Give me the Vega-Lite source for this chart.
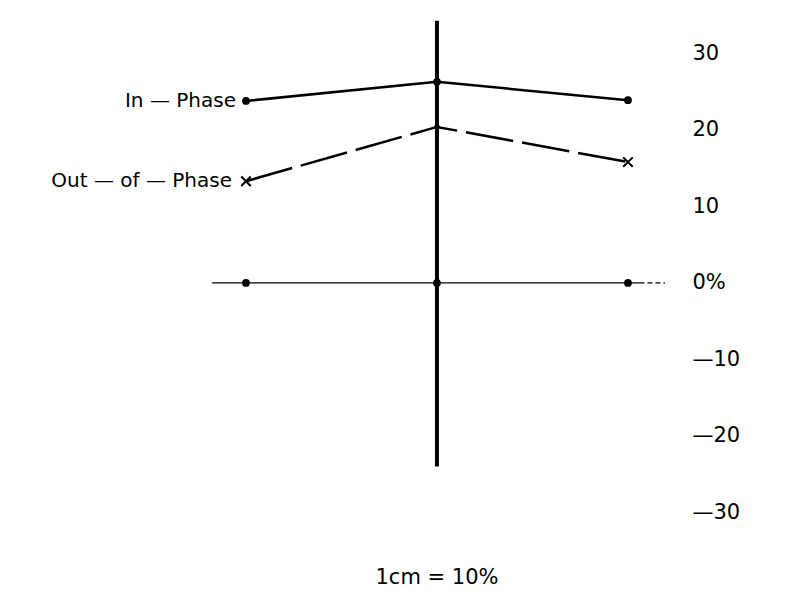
{
  "$schema": "https://vega.github.io/schema/vega-lite/v6.json",
  "width": 682,
  "height": 604,
  "padding": 0,
  "autosize": {"type": "pad"},
  "background": "white",
  "config": {"view": {"stroke": null}, "font": "DejaVu Sans"},
  "datasets": {
    "series": [
      {"series": "In-Phase", "pos": -1, "value": 23.8},
      {"series": "In-Phase", "pos": 0, "value": 26.3},
      {"series": "In-Phase", "pos": 1, "value": 23.9},
      {"series": "Out-of-Phase", "pos": -1, "value": 13.3},
      {"series": "Out-of-Phase", "pos": 0, "value": 20.4},
      {"series": "Out-of-Phase", "pos": 1, "value": 15.8},
      {"series": "Baseline", "pos": -1, "value": 0},
      {"series": "Baseline", "pos": 0, "value": 0},
      {"series": "Baseline", "pos": 1, "value": 0}
    ],
    "rules": [
      {"part": "axis", "pos": 0, "pos2": 0, "value": 34.3, "value2": -24},
      {"part": "zero", "pos": -1.178, "pos2": 1.06, "value": 0, "value2": 0}
    ],
    "dashrule": [
      {"part": "zeroend", "pos": 1.06, "pos2": 1.194, "value": 0, "value2": 0}
    ],
    "labels": [
      {"label": "In — Phase", "pos": -1, "value": 23.8, "shift": -10},
      {"label": "Out — of — Phase", "pos": -1, "value": 13.3, "shift": -14}
    ],
    "caption": [
      {"label": "1cm = 10%", "pos": 0, "value": -38.6}
    ]
  },
  "encoding": {
    "x": {"field": "pos", "type": "quantitative", "scale": {"domain": [-2.288, 1.283], "nice": false, "zero": false}, "axis": null},
    "y": {
      "field": "value", "type": "quantitative",
      "scale": {"domain": [-42, 37], "nice": false, "zero": false},
      "axis": {
        "orient": "right", "domain": false, "ticks": false, "grid": false, "title": null,
        "values": [-30, -20, -10, 0, 10, 20, 30],
        "labelExpr": "datum.value == 0 ? '0%' : (datum.value < 0 ? '—' + abs(datum.value) : '' + datum.value)",
        "labelFont": "DejaVu Sans", "labelFontSize": 21, "labelColor": "black",
        "labelAlign": "left", "labelBaseline": "middle", "labelPadding": 10
      }
    }
  },
  "layer": [
    {
      "data": {"name": "rules"},
      "mark": {"type": "rule", "color": "black"},
      "encoding": {
        "x2": {"field": "pos2"},
        "y2": {"field": "value2"},
        "strokeWidth": {"field": "part", "type": "nominal", "scale": {"domain": ["axis", "zero"], "range": [4, 1.3]}, "legend": null}
      }
    },
    {
      "data": {"name": "dashrule"},
      "mark": {"type": "rule", "color": "black", "strokeWidth": 1.3, "strokeDash": [5, 3]},
      "encoding": {"x2": {"field": "pos2"}, "y2": {"field": "value2"}}
    },
    {
      "data": {"name": "series"},
      "transform": [{"filter": "datum.series == 'In-Phase'"}],
      "mark": {"type": "line", "color": "black", "strokeWidth": 2.5},
      "encoding": {}
    },
    {
      "data": {"name": "series"},
      "transform": [{"filter": "datum.series == 'Out-of-Phase'"}],
      "mark": {"type": "line", "color": "black", "strokeWidth": 2.5, "strokeDash": [48, 9]},
      "encoding": {}
    },
    {
      "data": {"name": "series"},
      "transform": [{"filter": "datum.series != 'Out-of-Phase'"}],
      "mark": {"type": "point", "filled": true, "color": "black", "size": 60, "opacity": 1},
      "encoding": {}
    },
    {
      "data": {"name": "series"},
      "transform": [{"filter": "datum.series == 'Out-of-Phase' && datum.pos != 0"}],
      "mark": {"type": "point", "shape": "M-1,-1L1,1M-1,1L1,-1", "filled": false, "color": "black", "strokeWidth": 2, "size": 90, "opacity": 1},
      "encoding": {}
    },
    {
      "data": {"name": "series"},
      "transform": [{"filter": "datum.series == 'Out-of-Phase' && datum.pos == 0"}],
      "mark": {"type": "point", "filled": true, "color": "black", "size": 30, "opacity": 1},
      "encoding": {}
    },
    {
      "data": {"name": "labels"},
      "transform": [{"filter": "datum.shift == -10"}],
      "mark": {"type": "text", "align": "right", "baseline": "middle", "dx": -10, "fontSize": 20, "color": "black"},
      "encoding": {"text": {"field": "label"}}
    },
    {
      "data": {"name": "labels"},
      "transform": [{"filter": "datum.shift == -14"}],
      "mark": {"type": "text", "align": "right", "baseline": "middle", "dx": -14, "fontSize": 20, "color": "black"},
      "encoding": {"text": {"field": "label"}}
    },
    {
      "data": {"name": "caption"},
      "mark": {"type": "text", "align": "center", "baseline": "middle", "fontSize": 21, "color": "black"},
      "encoding": {"text": {"field": "label"}}
    }
  ]
}
